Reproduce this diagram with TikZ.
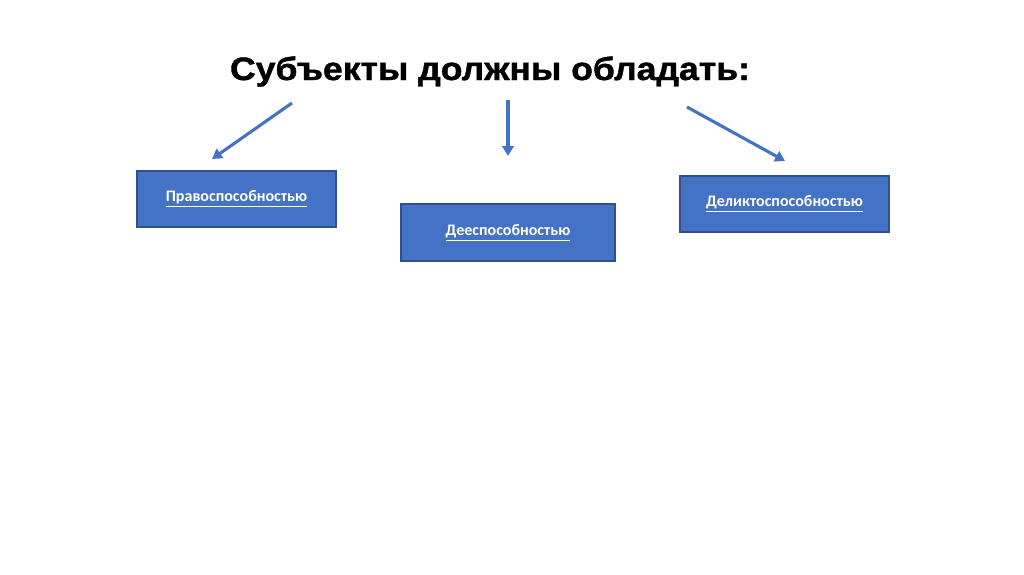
\documentclass[tikz,border=0pt]{standalone}
\usepackage{fontspec}
\setmainfont{Carlito}
\newfontfamily\titlefont[FakeStretch=1.1, FakeBold=1.2]{Liberation Sans}
\usetikzlibrary{arrows.meta}
\definecolor{boxblue}{HTML}{4472C4}
\definecolor{boxedge}{HTML}{2F528F}
\begin{document}
\begin{tikzpicture}[
        x=0.025cm, y=-0.025cm,
        ability/.style={rectangle, draw=boxedge, line width=0.8pt, fill=boxblue, text=white, font=\fontsize{11.4}{13}\selectfont\bfseries, minimum height=1.4cm},
        pointer/.style={draw=boxblue, line width=2.2pt, -{Triangle[length=7pt, width=8pt]}},
    ]
        \useasboundingbox (0,0) rectangle (1024,574);

        % Title
        \node[font=\titlefont\fontsize{23}{27}\selectfont\bfseries, anchor=base] (title) at (490,80) {Субъекты должны обладать:};

        % Boxes
        \node[ability, minimum width=4.975cm] (prav) at (236.5,199) {\underline{Правоспособностью}};
        \node[ability, minimum width=5.35cm, minimum height=1.425cm] (dees) at (508,232.5) {\underline{Дееспособностью}};
        \node[ability, minimum width=5.225cm] (delikt) at (784.5,204) {\underline{Деликтоспособностью}};

        % Arrow ends
        \coordinate (pravstart) at (292,103);
        \coordinate (pravend) at (212,159);
        \coordinate (deesstart) at (508,100);
        \coordinate (deesend) at (508,156);
        \coordinate (deliktstart) at (687,107);
        \coordinate (deliktend) at (785,161);

        % Arrows
        \draw[pointer] (pravstart) -- (pravend);
        \draw[pointer] (deesstart) -- (deesend);
        \draw[pointer] (deliktstart) -- (deliktend);

    \end{tikzpicture}
\end{document}
